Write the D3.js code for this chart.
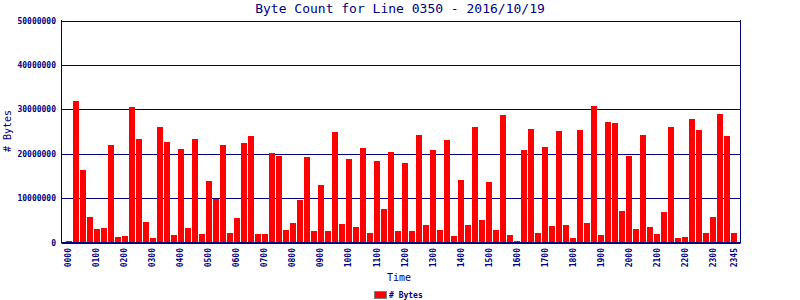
<!DOCTYPE html>
<html>
<head>
<meta charset="utf-8">
<script src="https://cdn.jsdelivr.net/npm/d3@7"></script>
<style>
  body { margin: 0; background: #fff; }
</style>
</head>
<body>
<div id="chart"></div>
<script>
// 15 minute slots, 0000 .. 2345
var slots = [];
for (var h = 0; h < 24; h++) {
    ['00', '15', '30', '45'].forEach(function (m) { slots.push((h < 10 ? '0' : '') + h + m); });
}

// byte counts in millions
var bytesM = [
    0.3, 31.9, 16.3, 5.7, 3.0, 3.2, 22.0, 1.2,
    1.4, 30.5, 23.3, 4.6, 1.0, 26.0, 22.6, 1.65,
    21.05, 3.2, 23.3, 1.9, 13.8, 9.9, 22.0, 2.1,
    5.5, 22.4, 24.0, 1.9, 1.9, 20.2, 19.5, 2.8,
    4.4, 9.5, 19.2, 2.6, 12.9, 2.6, 24.9, 4.1,
    18.8, 3.5, 21.3, 2.1, 18.3, 7.5, 20.4, 2.6,
    17.9, 2.6, 24.2, 3.9, 20.8, 2.8, 23.1, 1.4,
    14.1, 3.9, 26.0, 5.0, 13.6, 2.8, 28.7, 1.65,
    0.3, 20.8, 25.6, 2.1, 21.5, 3.7, 25.1, 3.9,
    1.0, 25.3, 4.4, 30.75, 1.65, 27.1, 26.9, 7.1,
    19.5, 3.0, 24.2, 3.5, 1.9, 6.8, 26.0, 1.0,
    1.2, 27.8, 25.3, 2.1, 5.7, 28.9, 24.0, 2.1
];

var tickLabels = ['0000', '0100', '0200', '0300', '0400', '0500', '0600', '0700',
    '0800', '0900', '1000', '1100', '1200', '1300', '1400', '1500',
    '1600', '1700', '1800', '1900', '2000', '2100', '2200', '2300', '2345'];
var yTicks = [0, 10000000, 20000000, 30000000, 40000000, 50000000];

var data = slots.map(function (s, i) { return { time: s, value: bytesM[i] * 1000000 }; });

var width = 800, height = 300;
var navy = '#000080';
var mono = "'DejaVu Sans Mono', 'Liberation Mono', monospace";

var svg = d3.select('#chart')
    .append('svg')
    .attr('width', width)
    .attr('height', height);

var x = d3.scaleBand()
    .domain(slots)
    .range([62, 741])
    .paddingInner(0.14)
    .paddingOuter(0.5);

var y = d3.scaleLinear()
    .domain([0, 50000000])
    .range([242.5, 20.5]);

// grid lines
svg.append('g')
    .selectAll('line')
    .data(yTicks)
    .enter()
    .append('line')
    .attr('x1', 61.5)
    .attr('x2', 740.5)
    .attr('y1', function (d) { return Math.round(y(d)) + 0.5; })
    .attr('y2', function (d) { return Math.round(y(d)) + 0.5; })
    .attr('stroke', navy)
    .attr('stroke-width', 1);

// bars
svg.append('g')
    .selectAll('rect')
    .data(data)
    .enter()
    .append('rect')
    .attr('x', function (d) { return Math.round(x(d.time)); })
    .attr('width', 6)
    .attr('y', function (d) { return Math.round(y(d.value)); })
    .attr('height', function (d) { return Math.round(y(0)) - Math.round(y(d.value)); })
    .attr('fill', '#ff0000');

// frame
svg.append('line').attr('x1', 61.5).attr('x2', 61.5).attr('y1', 20).attr('y2', 243).attr('stroke', navy);
svg.append('line').attr('x1', 740.5).attr('x2', 740.5).attr('y1', 20).attr('y2', 243).attr('stroke', navy);
svg.append('line').attr('x1', 61).attr('x2', 741).attr('y1', 242.5).attr('y2', 242.5).attr('stroke', navy);

// y axis labels
var yAxis = d3.axisLeft(y).tickValues(yTicks).tickSize(0).tickPadding(5).tickFormat(d3.format('d'));
var gy = svg.append('g').attr('transform', 'translate(61,0)').call(yAxis);
gy.select('.domain').remove();
gy.selectAll('text')
    .attr('fill', navy)
    .style('font-family', mono)
    .style('font-size', '8px')
    .style('font-weight', 'bold');

// x axis labels (rotated)
var byLabel = {};
tickLabels.forEach(function (t) { byLabel[t] = true; });
var xAxis = d3.axisBottom(x).tickValues(tickLabels).tickSize(0).tickPadding(0);
var gx = svg.append('g').attr('transform', 'translate(0,242)').call(xAxis);
gx.select('.domain').remove();
gx.selectAll('text')
    .attr('fill', navy)
    .attr('transform', 'rotate(-90)')
    .attr('x', -6)
    .attr('y', 0)
    .attr('dy', '0.32em')
    .attr('text-anchor', 'end')
    .style('font-family', mono)
    .style('font-size', '8px')
    .style('font-weight', 'bold');

// title
svg.append('text')
    .attr('x', 400)
    .attr('y', 13)
    .attr('text-anchor', 'middle')
    .attr('fill', navy)
    .style('font-family', mono)
    .style('font-size', '13px')
    .text('Byte Count for Line 0350 - 2016/10/19');

// axis titles
svg.append('text')
    .attr('x', 399)
    .attr('y', 281)
    .attr('text-anchor', 'middle')
    .attr('fill', navy)
    .style('font-family', mono)
    .style('font-size', '10px')
    .text('Time');

svg.append('text')
    .attr('transform', 'translate(11,131) rotate(-90)')
    .attr('text-anchor', 'middle')
    .attr('fill', navy)
    .style('font-family', mono)
    .style('font-size', '10px')
    .text('# Bytes');

// legend
svg.append('rect')
    .attr('x', 374.5)
    .attr('y', 291.5)
    .attr('width', 12)
    .attr('height', 7)
    .attr('fill', '#ff0000')
    .attr('stroke', '#808080');
svg.append('text')
    .attr('x', 389)
    .attr('y', 298)
    .attr('fill', navy)
    .style('font-family', mono)
    .style('font-size', '8px')
    .style('font-weight', 'bold')
    .text('# Bytes');
</script>
</body>
</html>
